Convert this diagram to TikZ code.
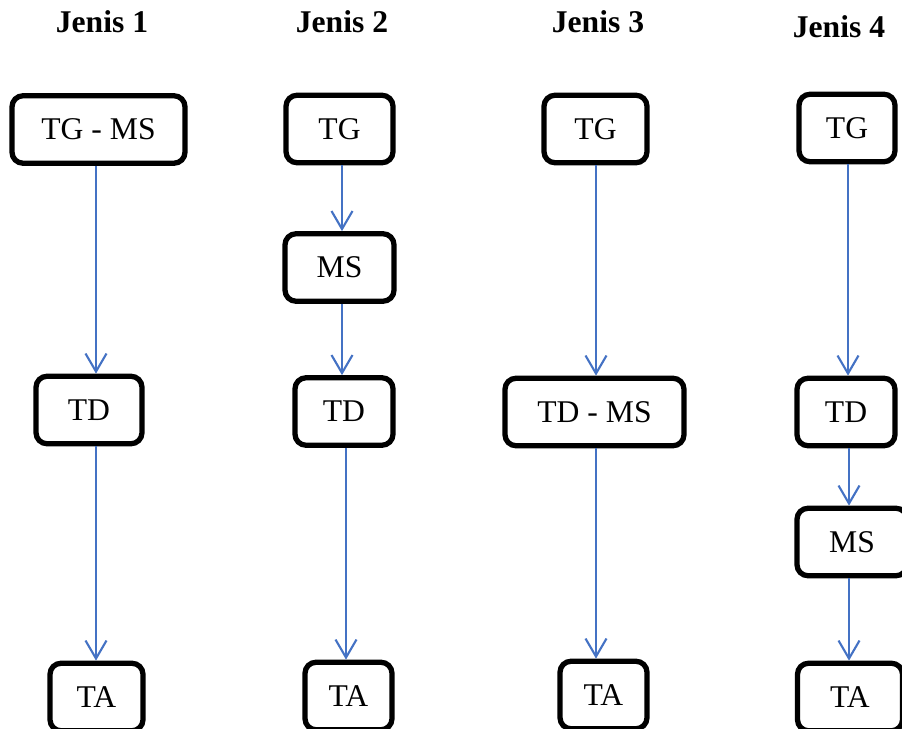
\documentclass[tikz,border=0pt]{standalone}
\usepackage{fontspec}
\setmainfont{Liberation Serif}
\usepackage{xcolor}
\usetikzlibrary{arrows.meta}
\definecolor{arrowblue}{RGB}{68,114,196}

\begin{document}
\begin{tikzpicture}[x=0.02cm, y=-0.02cm,
  box/.style={draw, line width=3pt, rounded corners=0.22cm, inner sep=0pt,
    minimum height=1.35cm, font=\fontsize{18}{21}\selectfont},
  head/.style={anchor=base, font=\fontsize{18}{21}\selectfont\bfseries},
  flow/.style={draw=arrowblue, line width=1.2pt,
    -{Straight Barb[length=0.36cm, width=0.42cm, line width=1.2pt]}}]
  \useasboundingbox (0,0) rectangle (902,729);

  \node[head] (h1) at (102,33) {Jenis 1};
  \node[head] (h2) at (342,33) {Jenis 2};
  \node[head] (h3) at (598,33) {Jenis 3};
  \node[head] (h4) at (839,38) {Jenis 4};

  \node[box, minimum width=3.46cm] (j1tgms) at (98.5,129.5) {TG - MS};
  \node[box, minimum width=2.12cm] (j1td) at (89,410) {TD};
  \node[box, minimum width=1.86cm] (j1ta) at (96.5,697) {TA};

  \node[box, minimum width=2.14cm] (j2tg) at (339.5,129) {TG};
  \node[box, minimum width=2.18cm] (j2ms) at (339.5,267.5) {MS};
  \node[box, minimum width=1.96cm] (j2td) at (344,411.5) {TD};
  \node[box, minimum width=1.74cm] (j2ta) at (348.5,696) {TA};

  \node[box, minimum width=2.06cm] (j3tg) at (595.5,129) {TG};
  \node[box, minimum width=3.58cm] (j3tdms) at (594.5,412) {TD - MS};
  \node[box, minimum width=1.74cm] (j3ta) at (603.5,695) {TA};

  \node[box, minimum width=1.92cm] (j4tg) at (847,128) {TG};
  \node[box, minimum width=1.96cm] (j4td) at (846,412) {TD};
  \node[box, minimum width=2.2cm] (j4ms) at (852,542) {MS};
  \node[box, minimum width=2.1cm] (j4ta) at (850,697) {TA};

  \coordinate (k1) at (96,0);
  \coordinate (k2) at (342,0);
  \coordinate (k2b) at (346,0);
  \coordinate (k3) at (596,0);
  \coordinate (k4) at (848,0);
  \coordinate (k4b) at (849,0);

  \draw[flow] (j1tgms.south -| k1) -- (j1td.north -| k1);
  \draw[flow] (j1td.south -| k1) -- (j1ta.north -| k1);

  \draw[flow] (j2tg.south -| k2) -- (j2ms.north -| k2);
  \draw[flow] (j2ms.south -| k2) -- (j2td.north -| k2);
  \draw[flow] (j2td.south -| k2b) -- (j2ta.north -| k2b);

  \draw[flow] (j3tg.south -| k3) -- (j3tdms.north -| k3);
  \draw[flow] (j3tdms.south -| k3) -- (j3ta.north -| k3);

  \draw[flow] (j4tg.south -| k4) -- (j4td.north -| k4);
  \draw[flow] (j4td.south -| k4b) -- (j4ms.north -| k4b);
  \draw[flow] (j4ms.south -| k4b) -- (j4ta.north -| k4b);
\end{tikzpicture}
\end{document}
